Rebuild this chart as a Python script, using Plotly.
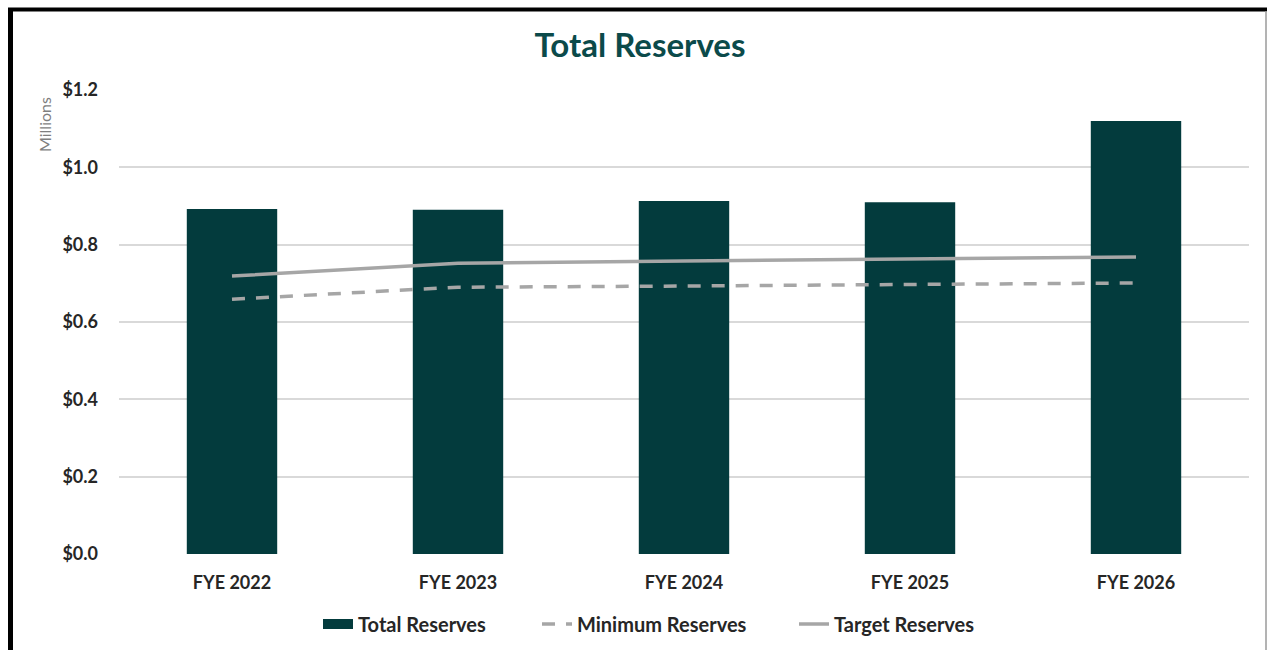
import plotly.graph_objects as go

categories = ["FYE 2022", "FYE 2023", "FYE 2024", "FYE 2025", "FYE 2026"]
total_reserves = [0.892, 0.890, 0.913, 0.910, 1.120]
minimum_reserves = [0.659, 0.690, 0.693, 0.698, 0.701]
target_reserves = [0.719, 0.752, 0.758, 0.763, 0.768]
y_ticks = [0.0, 0.2, 0.4, 0.6, 0.8, 1.0, 1.2]

FONT = "Lato"
TEAL = "#033B3D"
GRAY = "#A6A6A6"
TXT = "#262626"

fig = go.Figure()
fig.add_trace(go.Bar(x=categories, y=total_reserves, name="Total Reserves",
                     marker=dict(color=TEAL, line=dict(width=0)), showlegend=False))
# legend entry for the bar series drawn as a wide rectangle (Excel style)
fig.add_trace(go.Scatter(x=[categories[0]], y=[None], name="Total Reserves",
                         mode="lines", line=dict(color=TEAL, width=13), legend="legend"))
fig.add_trace(go.Scatter(x=categories, y=minimum_reserves, name="Minimum Reserves",
                         mode="lines", line=dict(color=GRAY, width=3.5, dash="13px,11px"),
                         legend="legend2"))
fig.add_trace(go.Scatter(x=categories, y=target_reserves, name="Target Reserves",
                         mode="lines", line=dict(color=GRAY, width=3.5), legend="legend3"))

L, R, T, B = 119, 19, 90, 96
W, H = 1268, 650
pw, ph = W - L - R, H - T - B

def px(x):
    return (x - L) / pw

def py(y):
    return (H - B - y) / ph

shapes = [
    dict(type="line", xref="paper", yref="paper", x0=px(10.5), x1=px(10.5), y0=py(8), y1=py(700),
         line=dict(color="black", width=5)),
    dict(type="line", xref="paper", yref="paper", x0=px(8), x1=px(1267), y0=py(9.5), y1=py(9.5),
         line=dict(color="black", width=4)),
    dict(type="line", xref="paper", yref="paper", x0=px(1266), x1=px(1266), y0=py(11), y1=py(700),
         line=dict(color="#9A9A9A", width=1.5)),
]

def leg(text_start):
    return dict(orientation="h", x=px(text_start - 41), xanchor="left", y=py(624),
                yanchor="middle", bgcolor="rgba(0,0,0,0)",
                font=dict(family=FONT, size=20, color=TXT, weight="bold"))

fig.update_layout(
    width=W, height=H,
    margin=dict(l=L, r=R, t=T, b=B, autoexpand=False),
    paper_bgcolor="white", plot_bgcolor="white",
    bargap=0.6,
    font=dict(family=FONT, color=TXT),
    title=dict(text="Total Reserves", x=px(640), xref="paper", xanchor="center",
               y=1 - 45 / H, yanchor="middle",
               font=dict(family=FONT, size=33, color="#0B4A4A", weight="bold")),
    xaxis=dict(showgrid=False, showline=False, ticks="", automargin=False,
               ticklabelstandoff=16,
               tickfont=dict(family=FONT, size=18, color=TXT, weight="bold")),
    yaxis=dict(range=[0, 1.2], tickvals=y_ticks, tickformat="$.1f", showgrid=True,
               gridcolor="#D9D9D9", gridwidth=1.5, zeroline=False, showline=False, ticks="",
               automargin=False, ticklabelstandoff=20,
               tickfont=dict(family=FONT, size=18, color=TXT, weight="bold")),
    legend=leg(359),
    legend2=leg(578),
    legend3=leg(835),
    shapes=shapes,
    annotations=[dict(text="Millions", xref="paper", yref="paper", x=px(44), y=py(125),
                      xanchor="center", yanchor="middle", textangle=-90, showarrow=False,
                      font=dict(family=FONT, size=16, color="#7F7F7F"))],
    showlegend=True,
)

fig.write_html("out.html")
